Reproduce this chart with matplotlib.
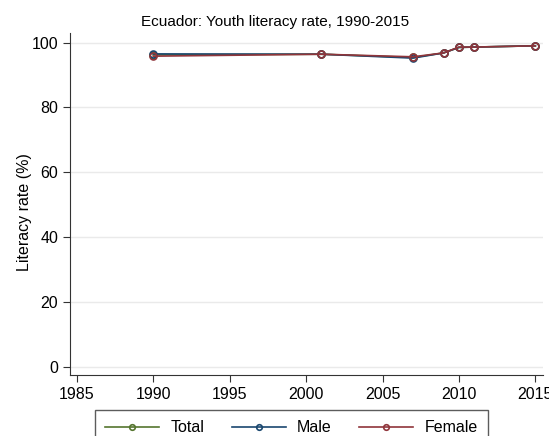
import matplotlib.pyplot as plt
import numpy as np

plt.rcParams['font.family'] = ['Liberation Sans', 'DejaVu Sans']

## values
years = [1990, 2001, 2007, 2009, 2010, 2011, 2015]
total = [96.2, 96.4, 95.4, 96.8, 98.5, 98.6, 99.0]
male = [96.5, 96.4, 95.2, 96.8, 98.5, 98.6, 99.0]
female = [95.8, 96.4, 95.6, 96.8, 98.6, 98.6, 99.0]

series = [('Total', total, '#55752f'),
          ('Male', male, '#1a476f'),
          ('Female', female, '#90353b')]

fig = plt.figure(figsize=(5.49, 4.36), dpi=100)
ax = fig.add_axes([0.1275, 0.140, 0.8615, 0.784])

for name, vals, col in series:
    ax.plot(years, vals, color=col, lw=1.2, marker='o', ms=5,
            mfc='none', mec=col, mew=1.2, label=name)

ax.set_xlim(1984.55, 2015.5)
ax.set_ylim(-2.5, 102.9)
ax.set_xticks(np.arange(1985, 2016, 5))
ax.set_yticks(np.arange(0, 101, 20))
ax.yaxis.grid(True, color='#eaeaea', lw=1)
ax.set_axisbelow(True)
for s in ['top', 'right']:
    ax.spines[s].set_visible(False)
for s in ['left', 'bottom']:
    ax.spines[s].set_color('#333333')
ax.tick_params(labelsize=11.5, length=5, color='#333333')
ax.set_ylabel('Literacy rate (%)', fontsize=11.5, va='center')
ax.yaxis.set_label_coords(-0.097, 0.477)

fig.text(275/549, 1 - 22/436, 'Ecuador: Youth literacy rate, 1990-2015',
         ha='center', va='center', fontsize=11)

leg = fig.legend(loc='upper center', bbox_to_anchor=(291.5/549, 1 - 410/436),
                 ncol=3, fontsize=11.5, frameon=True, fancybox=False,
                 edgecolor='#333333', handlelength=3.4, handletextpad=0.7,
                 columnspacing=1.7, borderpad=0.65, borderaxespad=0,
                 markerscale=0.8)
leg.get_frame().set_linewidth(1)

fig.savefig('out.png', dpi=100)
